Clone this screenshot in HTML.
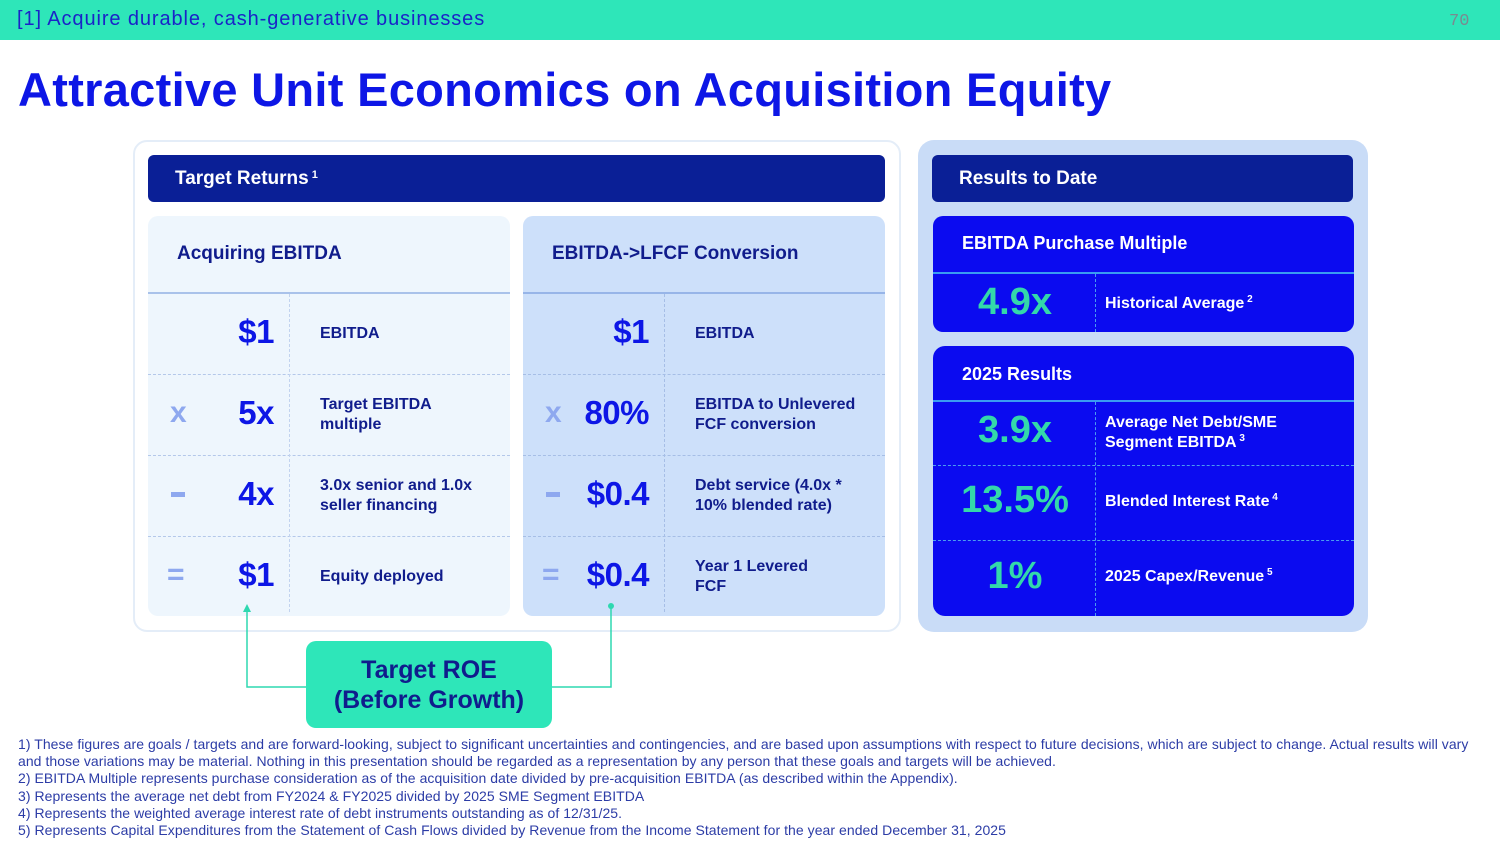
<!DOCTYPE html>
<html><head><meta charset="utf-8"><style>
*{margin:0;padding:0;box-sizing:border-box}
body{width:1500px;height:843px;background:#fff;position:relative;overflow:hidden;font-family:"Liberation Sans",sans-serif}
.a{position:absolute}
sup{line-height:0;vertical-align:6px}
.topbar{left:0;top:0;width:1500px;height:40px;background:#2ee6b9}
.num{font-weight:bold;color:#0d16e6;font-size:33px;text-align:right;width:110px;letter-spacing:-0.5px}
.op{font-weight:bold;color:#8ea8ef;font-size:30px}
.lbl{font-weight:bold;color:#101c8c;font-size:16px;line-height:20px}
.hd{font-weight:bold;color:#101c8c;font-size:19px}
.dh{height:0;border-top:1.5px dashed #b4c8ea}
.dv{width:0;border-left:1.5px dashed #c2d3ef}
.tn{font-weight:bold;color:#33d8aa;font-size:38px;text-align:center;width:150px}
.wl{font-weight:bold;color:#fff;font-size:16px;line-height:20px}
.wd{height:0;border-top:1.5px dashed #4b9cf0}
.fn{left:18px;font-size:14px;color:#2c3ca6;white-space:nowrap;letter-spacing:0.05px}
</style></head><body>
<div class="a topbar"></div>
<div class="a" style="left:17px;top:8px;font-size:20px;color:#1a23c8;letter-spacing:0.9px">[1] Acquire durable, cash-generative businesses</div>
<div class="a" style="left:1449px;top:12px;font-size:17px;color:#7a8a90;font-family:'Liberation Mono',monospace">70</div>
<div class="a" style="left:18px;top:62px;font-size:47px;font-weight:bold;color:#0d16e6;letter-spacing:0.3px">Attractive Unit Economics on Acquisition Equity</div>

<div class="a" style="left:133px;top:140px;width:768px;height:492px;border:2px solid #e4edf8;border-radius:14px;background:#fff"></div>
<div class="a" style="left:148px;top:155px;width:737px;height:47px;background:#0a1f96;border-radius:6px"></div>
<div class="a" style="left:175px;top:168px;font-size:19px;color:#fff;font-weight:bold">Target Returns<sup style="font-size:11px"> 1</sup></div>

<div class="a" style="left:148px;top:216px;width:362px;height:400px;background:#eef6fd;border-radius:10px"></div>
<div class="a" style="left:523px;top:216px;width:362px;height:400px;background:#cde0fa;border-radius:10px"></div>
<div class="a" style="left:148px;top:292px;width:362px;height:2px;background:#a9c2ea"></div>
<div class="a" style="left:523px;top:292px;width:362px;height:2px;background:#97b5e8"></div>
<div class="a dh" style="left:148px;top:374px;width:362px"></div>
<div class="a dh" style="left:148px;top:455px;width:362px"></div>
<div class="a dh" style="left:148px;top:536px;width:362px"></div>
<div class="a dh" style="left:523px;top:374px;width:362px;border-color:#a6bee6"></div>
<div class="a dh" style="left:523px;top:455px;width:362px;border-color:#a6bee6"></div>
<div class="a dh" style="left:523px;top:536px;width:362px;border-color:#a6bee6"></div>
<div class="a dv" style="left:289px;top:294px;height:318px"></div>
<div class="a dv" style="left:664px;top:294px;height:318px;border-color:#a6bee6"></div>

<div class="a hd" style="left:177px;top:243px">Acquiring EBITDA</div>
<div class="a hd" style="left:552px;top:243px">EBITDA-&gt;LFCF Conversion</div>

<div class="a num" style="left:164px;top:313px">$1</div>
<div class="a lbl" style="left:320px;top:324px">EBITDA</div>
<div class="a op" style="left:170px;top:396px">x</div>
<div class="a num" style="left:164px;top:394px">5x</div>
<div class="a lbl" style="left:320px;top:395px">Target EBITDA<br>multiple</div>
<div class="a" style="left:171px;top:492px;width:14px;height:5px;background:#8ea8ef"></div>
<div class="a num" style="left:164px;top:475px">4x</div>
<div class="a lbl" style="left:320px;top:476px">3.0x senior and 1.0x<br>seller financing</div>
<div class="a op" style="left:167px;top:558px">=</div>
<div class="a num" style="left:164px;top:556px">$1</div>
<div class="a lbl" style="left:320px;top:567px">Equity deployed</div>

<div class="a num" style="left:539px;top:313px">$1</div>
<div class="a lbl" style="left:695px;top:324px">EBITDA</div>
<div class="a op" style="left:545px;top:396px">x</div>
<div class="a num" style="left:539px;top:394px">80%</div>
<div class="a lbl" style="left:695px;top:395px">EBITDA to Unlevered<br>FCF conversion</div>
<div class="a" style="left:546px;top:492px;width:14px;height:5px;background:#8ea8ef"></div>
<div class="a num" style="left:539px;top:475px">$0.4</div>
<div class="a lbl" style="left:695px;top:476px">Debt service (4.0x *<br>10% blended rate)</div>
<div class="a op" style="left:542px;top:558px">=</div>
<div class="a num" style="left:539px;top:556px">$0.4</div>
<div class="a lbl" style="left:695px;top:557px">Year 1 Levered<br>FCF</div>

<div class="a" style="left:918px;top:140px;width:450px;height:492px;background:#c9dcf7;border-radius:16px"></div>
<div class="a" style="left:932px;top:155px;width:421px;height:47px;background:#0a1f96;border-radius:6px"></div>
<div class="a" style="left:959px;top:168px;font-size:19px;color:#fff;font-weight:bold">Results to Date</div>

<div class="a" style="left:933px;top:216px;width:421px;height:116px;background:#0b0bf0;border-radius:10px"></div>
<div class="a" style="left:933px;top:272px;width:421px;height:2px;background:#3a9cf2"></div>
<div class="a dv" style="left:1095px;top:274px;height:58px;border-color:#4b9cf0"></div>
<div class="a" style="left:962px;top:233px;font-size:18px;font-weight:bold;color:#fff">EBITDA Purchase Multiple</div>
<div class="a tn" style="left:940px;top:281px">4.9x</div>
<div class="a wl" style="left:1105px;top:294px">Historical Average<sup style="font-size:10px"> 2</sup></div>

<div class="a" style="left:933px;top:346px;width:421px;height:270px;background:#0b0bf0;border-radius:12px"></div>
<div class="a" style="left:933px;top:400px;width:421px;height:2px;background:#3a9cf2"></div>
<div class="a wd" style="left:933px;top:465px;width:421px"></div>
<div class="a wd" style="left:933px;top:540px;width:421px"></div>
<div class="a dv" style="left:1095px;top:402px;height:214px;border-color:#4b9cf0"></div>
<div class="a" style="left:962px;top:364px;font-size:18px;font-weight:bold;color:#fff">2025 Results</div>
<div class="a tn" style="left:940px;top:409px">3.9x</div>
<div class="a wl" style="left:1105px;top:413px">Average Net Debt/SME<br>Segment EBITDA<sup style="font-size:10px"> 3</sup></div>
<div class="a tn" style="left:940px;top:479px">13.5%</div>
<div class="a wl" style="left:1105px;top:492px">Blended Interest Rate<sup style="font-size:10px"> 4</sup></div>
<div class="a tn" style="left:940px;top:555px">1%</div>
<div class="a wl" style="left:1105px;top:567px">2025 Capex/Revenue<sup style="font-size:10px"> 5</sup></div>

<svg class="a" style="left:0;top:0" width="1500" height="843">
<polyline points="247,606 247,687 306,687" fill="none" stroke="#2ed8b0" stroke-width="1.5"/>
<polygon points="243,612 247,604 251,612" fill="#2ed8b0"/>
<polyline points="611,606 611,687 551,687" fill="none" stroke="#2ed8b0" stroke-width="1.5"/>
<circle cx="611" cy="606" r="3" fill="#2ed8b0"/>
</svg>
<div class="a" style="left:306px;top:641px;width:246px;height:87px;background:#2ee6b9;border-radius:10px;text-align:center;color:#101c8c;font-weight:bold;font-size:25px;line-height:30px;padding-top:14px">Target ROE<br>(Before Growth)</div>

<div class="a fn" style="top:736px">1) These figures are goals / targets and are forward-looking, subject to significant uncertainties and contingencies, and are based upon assumptions with respect to future decisions, which are subject to change. Actual results will vary</div>
<div class="a fn" style="top:753px">and those variations may be material. Nothing in this presentation should be regarded as a representation by any person that these goals and targets will be achieved.</div>
<div class="a fn" style="top:770px">2) EBITDA Multiple represents purchase consideration as of the acquisition date divided by pre-acquisition EBITDA (as described within the Appendix).</div>
<div class="a fn" style="top:788px">3) Represents the average net debt from FY2024 &amp; FY2025 divided by 2025 SME Segment EBITDA</div>
<div class="a fn" style="top:805px">4) Represents the weighted average interest rate of debt instruments outstanding as of 12/31/25.</div>
<div class="a fn" style="top:822px">5) Represents Capital Expenditures from the Statement of Cash Flows divided by Revenue from the Income Statement for the year ended December 31, 2025</div>
</body></html>
